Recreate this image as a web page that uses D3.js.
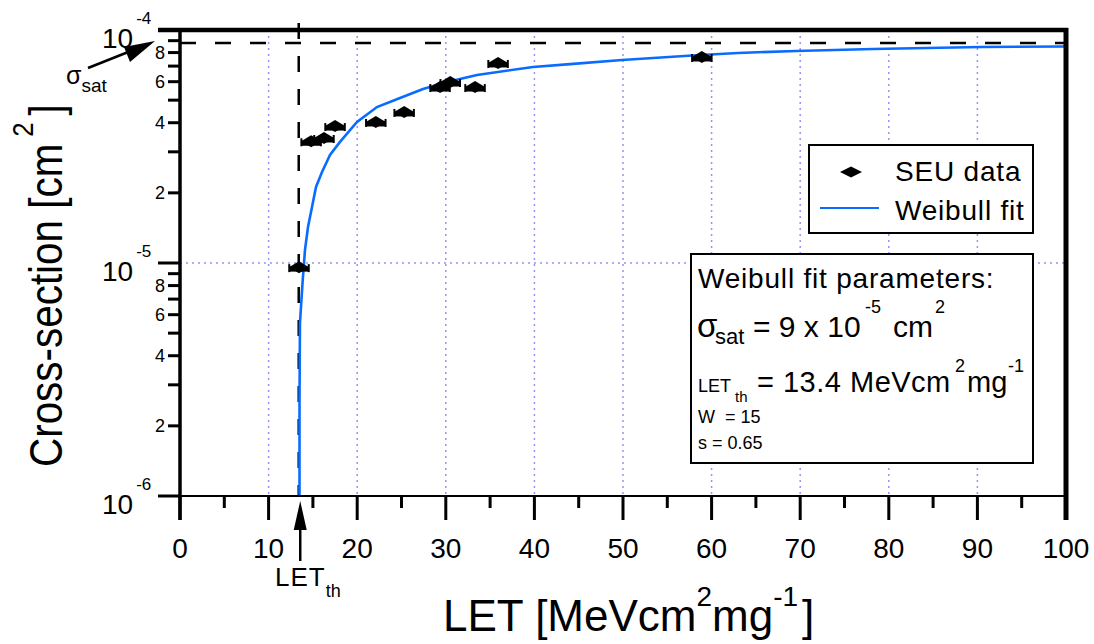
<!DOCTYPE html>
<html><head><meta charset="utf-8">
<script src="https://cdn.jsdelivr.net/npm/d3@7"></script>
<style>
body{margin:0;background:#fff}
svg{display:block}
text{font-family:"Liberation Sans",Arial,Helvetica,sans-serif;fill:#000}
</style>
</head><body>
<svg id="c" width="1094" height="644"></svg>
<script>
// ---- data ----
const seuLET   = [13.43, 14.8, 16.25, 17.5, 22.1, 25.3, 29.35, 30.5, 33.3, 35.9, 58.9];
const seuSigma = [0.96e-5, 3.33e-5, 3.44e-5, 3.87e-5, 4.03e-5, 4.45e-5, 5.69e-5, 5.98e-5, 5.69e-5, 7.22e-5, 7.66e-5];
const seuLETErr = [1.1, 1.1, 1.1, 1.1, 1.1, 1.1, 1.1, 1.1, 1.1, 1.1, 1.1];

const fitLET   = [13.49, 13.49, 13.54, 13.85, 14.11, 14.45, 14.90, 15.35, 16.03, 16.93, 18.06, 19.98, 22.23, 24.83, 27.43, 30.14, 33.52, 39.84, 44.02, 49.89, 57.79, 62.98, 69.53, 78.22, 90.41, 100];
const fitSigma = [1.0e-6, 2.58e-6, 5.53e-6, 8.45e-6, 1.14e-5, 1.43e-5, 1.74e-5, 2.12e-5, 2.46e-5, 2.91e-5, 3.31e-5, 4.03e-5, 4.67e-5, 5.11e-5, 5.58e-5, 5.98e-5, 6.41e-5, 6.94e-5, 7.14e-5, 7.43e-5, 7.77e-5, 7.97e-5, 8.13e-5, 8.29e-5, 8.45e-5, 8.50e-5];

const sigmaSatLine = 8.8e-5;   // level of the horizontal dashed line as drawn
const letTh = 13.4;

const xMajorTicks = [0, 10, 20, 30, 40, 50, 60, 70, 80, 90, 100];
const xMinorTicks = [5, 15, 25, 35, 45, 55, 65, 75, 85, 95];
const xGridTicks  = [10, 20, 30, 40, 50, 60, 70, 80, 90];
const yDecadeTicks = [1e-6, 1e-5, 1e-4];
const yDecadeExp   = ["-6", "-5", "-4"];
const yMinorTicks  = [2e-6, 3e-6, 4e-6, 5e-6, 6e-6, 7e-6, 8e-6, 9e-6, 2e-5, 3e-5, 4e-5, 5e-5, 6e-5, 7e-5, 8e-5, 9e-5];
const yMinorLabelled = [2e-6, 4e-6, 6e-6, 8e-6, 2e-5, 4e-5, 6e-5, 8e-5];
const yMinorLabelText = ["2", "4", "6", "8", "2", "4", "6", "8"];
const yGridTicks = [1e-5];

// ---- layout ----
const L = 180, R = 1066, T = 30, B = 496;
const svg = d3.select("#c");
const x = d3.scaleLinear().domain([0, 100]).range([L, R]);
const y = d3.scaleLog().domain([1e-6, 1e-4]).range([B, T]);

// grid
const grid = svg.append("g").attr("stroke", "#9494f5").attr("stroke-width", 1.5).attr("stroke-dasharray", "2,4");
grid.selectAll("line.gx").data(xGridTicks).join("line")
  .attr("x1", d => x(d)).attr("x2", d => x(d)).attr("y1", T).attr("y2", B);
grid.selectAll("line.gy").data(yGridTicks).join("line")
  .attr("x1", L).attr("x2", R).attr("y1", d => y(d)).attr("y2", d => y(d));

// dashed reference lines
svg.append("line").attr("x1", L).attr("x2", R).attr("y1", y(sigmaSatLine)).attr("y2", y(sigmaSatLine))
  .attr("stroke", "#000").attr("stroke-width", 2.5).attr("stroke-dasharray", "16,19");
svg.append("line").attr("x1", x(letTh)).attr("x2", x(letTh)).attr("y1", 23).attr("y2", B)
  .attr("stroke", "#000").attr("stroke-width", 2.5).attr("stroke-dasharray", "16,17");

// fit curve
const fitPts = fitLET.map((d, i) => [d, fitSigma[i]]);
svg.append("path").datum(fitPts)
  .attr("fill", "none").attr("stroke", "#0a6cff").attr("stroke-width", 2.6)
  .attr("d", d3.line().x(d => x(d[0])).y(d => y(d[1])));

// data points
const pts = svg.append("g");
seuLET.forEach((v, i) => {
  const cx = x(v), cy = y(seuSigma[i]);
  const x1 = x(v - seuLETErr[i]), x2 = x(v + seuLETErr[i]);
  pts.append("line").attr("x1", x1).attr("x2", x2).attr("y1", cy + 2).attr("y2", cy + 2)
    .attr("stroke", "#000").attr("stroke-width", 5);
  pts.append("line").attr("x1", x1).attr("x2", x1).attr("y1", cy - 3).attr("y2", cy + 5)
    .attr("stroke", "#000").attr("stroke-width", 2);
  pts.append("line").attr("x1", x2).attr("x2", x2).attr("y1", cy - 3).attr("y2", cy + 5)
    .attr("stroke", "#000").attr("stroke-width", 2);
  pts.append("path").attr("transform", `translate(${cx},${cy})`)
    .attr("d", "M-10,0L0,-6L10,0L0,6Z").attr("fill", "#000");
});

// axes
const ax = svg.append("g");
ax.selectAll("line.xM").data(xMajorTicks).join("line")
  .attr("x1", d => x(d)).attr("x2", d => x(d)).attr("y1", B).attr("y2", B + 24)
  .attr("stroke", "#000").attr("stroke-width", 3);
ax.selectAll("line.xm").data(xMinorTicks).join("line")
  .attr("x1", d => x(d)).attr("x2", d => x(d)).attr("y1", B).attr("y2", B + 12)
  .attr("stroke", "#000").attr("stroke-width", 3);
ax.selectAll("text.xl").data(xMajorTicks).join("text")
  .attr("x", d => x(d)).attr("y", 558).attr("text-anchor", "middle")
  .attr("font-size", 28).text(d => d);
ax.selectAll("line.yM").data(yDecadeTicks).join("line")
  .attr("x1", L - 22).attr("x2", L).attr("y1", d => y(d)).attr("y2", d => y(d))
  .attr("stroke", "#000").attr("stroke-width", 3);
ax.selectAll("line.ym").data(yMinorTicks).join("line")
  .attr("x1", L - 12).attr("x2", L).attr("y1", d => y(d)).attr("y2", d => y(d))
  .attr("stroke", "#000").attr("stroke-width", 3);
ax.selectAll("text.yml").data(yMinorLabelled).join("text")
  .attr("x", 165).attr("y", d => y(d) + 6.5).attr("text-anchor", "end")
  .attr("font-size", 18).text((d, i) => yMinorLabelText[i]);
yDecadeTicks.forEach((d, i) => {
  const t = ax.append("text").attr("x", 102).attr("y", y(d) + 18).attr("font-size", 28);
  t.append("tspan").text("10");
  t.append("tspan").attr("dx", 3).attr("dy", -24).attr("font-size", 17).text(yDecadeExp[i]);
});

// frame
svg.append("line").attr("x1", L).attr("x2", L).attr("y1", T).attr("y2", B + 24).attr("stroke", "#000").attr("stroke-width", 3.5);
svg.append("line").attr("x1", L - 22).attr("x2", R).attr("y1", B).attr("y2", B).attr("stroke", "#000").attr("stroke-width", 2);
svg.append("line").attr("x1", L - 22).attr("x2", R + 2).attr("y1", T).attr("y2", T).attr("stroke", "#000").attr("stroke-width", 4.5);
svg.append("line").attr("x1", R).attr("x2", R).attr("y1", T - 2).attr("y2", B + 24).attr("stroke", "#000").attr("stroke-width", 5);

// LET_th arrow at bottom
svg.append("line").attr("x1", x(letTh) + 1.5).attr("x2", x(letTh) + 1.5).attr("y1", 528).attr("y2", 561)
  .attr("stroke", "#000").attr("stroke-width", 2.5);
svg.append("path").attr("d", `M${x(letTh) + 1.5},501L${x(letTh) - 5},530L${x(letTh) + 8},530Z`).attr("fill", "#000");
const lt = svg.append("text").attr("x", 275).attr("y", 586).attr("font-size", 26).attr("letter-spacing", 1);
lt.append("tspan").text("LET");
lt.append("tspan").attr("dy", 11).attr("font-size", 18).attr("letter-spacing", 0).text("th");

// sigma_sat arrow
svg.append("line").attr("x1", 88).attr("y1", 68).attr("x2", 132).attr("y2", 50.5).attr("stroke", "#000").attr("stroke-width", 2.5);
svg.append("path").attr("d", "M155,41L130,62L124,47Z").attr("fill", "#000");
const ss = svg.append("text").attr("x", 66).attr("y", 84).attr("font-size", 25);
ss.append("tspan").text("σ");
ss.append("tspan").attr("dy", 8).attr("font-size", 19).text("sat");

// axis titles
const xt = svg.append("text").attr("x", 443).attr("y", 631).attr("font-size", 44);
xt.append("tspan").text("LET [MeVcm");
xt.append("tspan").attr("dy", -25).attr("font-size", 28).text("2");
xt.append("tspan").attr("dy", 25).text("mg");
xt.append("tspan").attr("dy", -25).attr("font-size", 28).text("-1");
xt.append("tspan").attr("dy", 25).attr("dx", 4).text("]");

const yt = svg.append("text").attr("transform", "translate(62,467) rotate(-90) scale(0.86,1)").attr("font-size", 47);
yt.append("tspan").text("Cross-section [cm");
yt.append("tspan").attr("dx", 8).attr("dy", -29).attr("font-size", 30).text("2");
yt.append("tspan").attr("dx", 8).attr("dy", 29).text("]");

// legend
const lg = svg.append("g");
lg.append("rect").attr("x", 809).attr("y", 145).attr("width", 224).attr("height", 88)
  .attr("fill", "#fff").attr("stroke", "#000").attr("stroke-width", 2);
lg.append("path").attr("transform", "translate(851,172)").attr("d", "M-11,0L0,-5.5L11,0L0,5.5Z").attr("fill", "#000");
lg.append("line").attr("x1", 820).attr("x2", 879).attr("y1", 208).attr("y2", 208).attr("stroke", "#0a6cff").attr("stroke-width", 2);
lg.append("text").attr("x", 895).attr("y", 181).attr("font-size", 28).attr("letter-spacing", 0.8).text("SEU data");
lg.append("text").attr("x", 895).attr("y", 220).attr("font-size", 28).attr("letter-spacing", 0.8).text("Weibull fit");

// parameter box
const pb = svg.append("g");
pb.append("rect").attr("x", 691).attr("y", 254).attr("width", 342).attr("height", 209)
  .attr("fill", "#fff").attr("stroke", "#000").attr("stroke-width", 2);
pb.append("text").attr("x", 698).attr("y", 288).attr("font-size", 28).attr("letter-spacing", 0.8).text("Weibull fit parameters:");
const l2 = pb.append("text").attr("y", 337);
l2.append("tspan").attr("x", 697).attr("font-size", 33).text("σ");
l2.append("tspan").attr("x", 715).attr("y", 344).attr("font-size", 22).text("sat");
l2.append("tspan").attr("x", 753).attr("y", 337).attr("font-size", 30).text("= 9 x 10");
l2.append("tspan").attr("x", 865).attr("y", 313).attr("font-size", 18).text("-5");
l2.append("tspan").attr("x", 893).attr("y", 337).attr("font-size", 30).text("cm");
l2.append("tspan").attr("x", 935).attr("y", 313).attr("font-size", 18).text("2");
const l3 = pb.append("text").attr("y", 392);
l3.append("tspan").attr("x", 698).attr("font-size", 18).text("LET");
l3.append("tspan").attr("x", 735).attr("y", 402).attr("font-size", 15).text("th");
l3.append("tspan").attr("x", 757).attr("y", 392).attr("font-size", 29).attr("letter-spacing", 0.5).text("= 13.4 MeVcm");
l3.append("tspan").attr("x", 955).attr("y", 372).attr("font-size", 18).text("2");
l3.append("tspan").attr("x", 967).attr("y", 392).attr("font-size", 29).text("mg");
l3.append("tspan").attr("x", 1008).attr("y", 372).attr("font-size", 18).text("-1");
pb.append("text").attr("x", 698).attr("y", 423).attr("font-size", 18).attr("xml:space", "preserve").text("W  = 15");
pb.append("text").attr("x", 698).attr("y", 449).attr("font-size", 18).text("s = 0.65");
</script>
</body></html>
